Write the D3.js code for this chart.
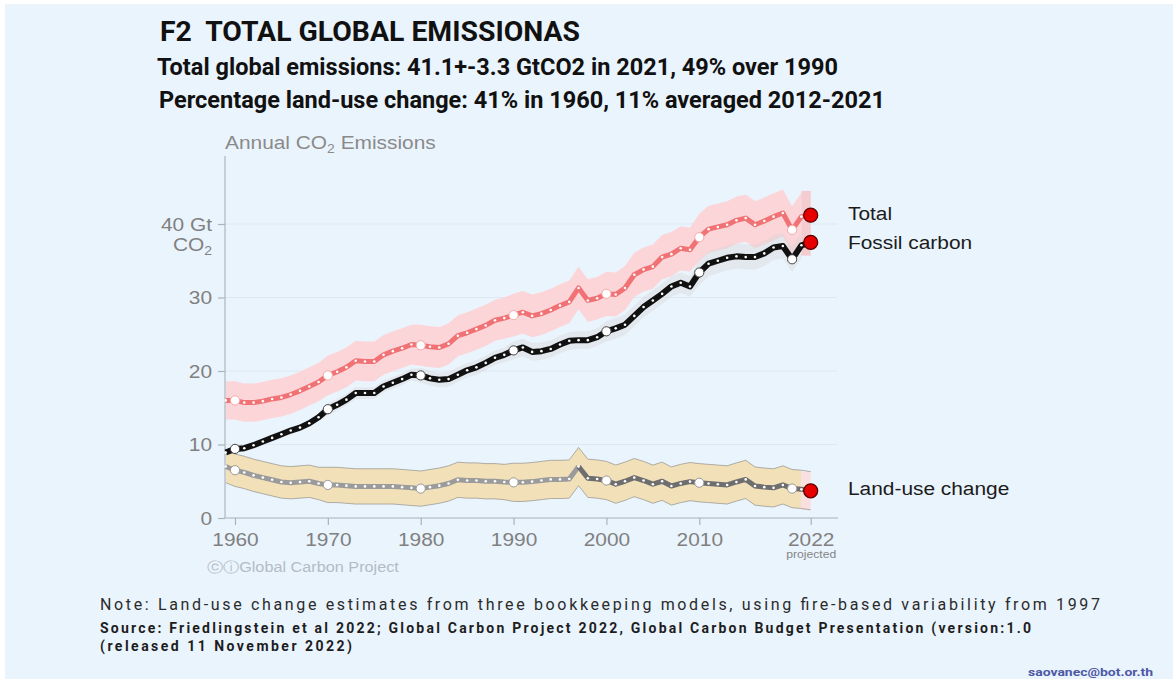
<!DOCTYPE html>
<html><head><meta charset="utf-8">
<script src="https://cdn.jsdelivr.net/npm/d3@7"></script>
<style>html,body{margin:0;padding:0;background:#fff;} svg{display:block;} text{white-space:pre;}</style>
</head><body>
<svg id="c" width="1173" height="679"></svg>
<script>
// ---------- data (GtCO2 per year, 1959..2022) ----------
const years = d3.range(1959, 2023);
const fossil = [8.9, 9.4, 9.5, 9.9, 10.4, 10.9, 11.4, 11.9, 12.3, 12.9, 13.7,
  14.8, 15.4, 16.1, 17.0, 17.0, 17.0, 17.9, 18.4, 18.9, 19.5,
  19.4, 19.0, 18.8, 18.9, 19.5, 20.1, 20.5, 21.1, 21.8, 22.2,
  22.8, 23.2, 22.6, 22.7, 23.0, 23.6, 24.1, 24.2, 24.2, 24.6,
  25.4, 25.8, 26.3, 27.5, 28.7, 29.6, 30.5, 31.5, 32.0, 31.5,
  33.4, 34.6, 35.0, 35.4, 35.6, 35.5, 35.5, 36.0, 36.8, 37.0,
  35.2, 37.1, 37.5];
const total = [16.0, 16.0, 15.7, 15.7, 15.9, 16.2, 16.4, 16.8, 17.3, 17.9, 18.5,
  19.4, 19.9, 20.5, 21.4, 21.3, 21.3, 22.2, 22.7, 23.1, 23.6,
  23.5, 23.3, 23.2, 23.7, 24.8, 25.2, 25.7, 26.2, 26.9, 27.2,
  27.6, 28.0, 27.5, 27.8, 28.3, 28.9, 29.4, 31.3, 29.6, 29.9,
  30.5, 30.4, 31.3, 33.1, 33.8, 34.2, 35.5, 35.9, 36.7, 36.5,
  38.2, 39.3, 39.6, 39.9, 40.5, 40.8, 39.9, 40.4, 41.0, 41.5,
  39.2, 41.0, 41.2];
const landUse = [7.0, 6.5, 6.2, 5.8, 5.5, 5.2, 4.9, 4.8, 4.9, 5.0, 4.7,
  4.5, 4.5, 4.4, 4.3, 4.3, 4.3, 4.3, 4.3, 4.2, 4.1,
  4.0, 4.2, 4.4, 4.7, 5.2, 5.1, 5.1, 5.0, 5.0, 4.9,
  4.85, 4.85, 4.95, 5.1, 5.25, 5.25, 5.3, 7.0, 5.4, 5.3,
  5.1, 4.6, 5.0, 5.5, 5.1, 4.6, 5.0, 4.35, 4.7, 4.95,
  4.8, 4.7, 4.6, 4.5, 4.9, 5.25, 4.35, 4.2, 4.1, 4.5,
  4.0, 3.9, 3.7];
// half-width of the uncertainty bands
const totalUnc = [2.6, 2.6, 2.6, 2.6, 2.6, 2.6, 2.6, 2.6, 2.6, 2.6, 2.6,
  2.7, 2.7, 2.7, 2.7, 2.7, 2.7, 2.7, 2.7, 2.7, 2.7,
  2.8, 2.8, 2.8, 2.8, 2.8, 2.8, 2.8, 2.8, 2.8, 2.8,
  2.9, 2.9, 2.9, 2.9, 2.9, 2.9, 2.9, 2.9, 2.9, 2.9,
  3.0, 3.0, 3.0, 3.0, 3.0, 3.0, 3.0, 3.0, 3.0, 3.0,
  3.2, 3.2, 3.2, 3.2, 3.2, 3.2, 3.2, 3.2, 3.2, 3.2,
  3.2, 3.3, 3.3];
const fossilUnc = [0.5, 0.5, 0.5, 0.5, 0.5, 0.5, 0.5, 0.5, 0.5, 0.5, 0.5,
  0.8, 0.8, 0.8, 0.8, 0.8, 0.8, 0.8, 0.8, 0.8, 0.8,
  1.0, 1.0, 1.0, 1.0, 1.0, 1.0, 1.0, 1.0, 1.0, 1.0,
  1.2, 1.2, 1.2, 1.2, 1.2, 1.2, 1.2, 1.2, 1.2, 1.2,
  1.4, 1.4, 1.4, 1.4, 1.4, 1.4, 1.4, 1.4, 1.4, 1.4,
  1.7, 1.7, 1.7, 1.7, 1.7, 1.7, 1.7, 1.7, 1.7, 1.7,
  1.7, 1.8, 1.8];
const landUnc = [2.2, 2.2, 2.2, 2.2, 2.2, 2.2, 2.2, 2.2, 2.2, 2.2, 2.2,
  2.4, 2.4, 2.4, 2.4, 2.4, 2.4, 2.4, 2.4, 2.4, 2.4,
  2.4, 2.4, 2.4, 2.4, 2.4, 2.4, 2.4, 2.4, 2.4, 2.4,
  2.6, 2.6, 2.6, 2.6, 2.6, 2.6, 2.6, 2.6, 2.6, 2.6,
  2.6, 2.6, 2.6, 2.6, 2.6, 2.6, 2.6, 2.6, 2.6, 2.6,
  2.6, 2.6, 2.6, 2.6, 2.6, 2.6, 2.6, 2.6, 2.6, 2.6,
  2.6, 2.6, 2.6];
const yTicks = [0, 10, 20, 30, 40];
const xTicks = [1960, 1970, 1980, 1990, 2000, 2010, 2022];
const decadeMarks = [1960, 1970, 1980, 1990, 2000, 2010, 2020];
const seriesNames = ["Total", "Fossil carbon", "Land-use change"];
const fireYear = 1997, projYear = 2022, lastObsYear = 2021;

const titleText = "F2  TOTAL GLOBAL EMISSIONAS";
const sub1 = "Total global emissions: 41.1+-3.3 GtCO2 in 2021, 49% over 1990";
const sub2 = "Percentage land-use change: 41% in 1960, 11% averaged 2012-2021";
const noteText = "Note: Land-use change estimates from three bookkeeping models, using fire-based variability from 1997";
const src1 = "Source: Friedlingstein et al 2022; Global Carbon Project 2022, Global Carbon Budget Presentation (version:1.0";
const src2 = "(released 11 November 2022)";
const email = "saovanec@bot.or.th";

// ---------- drawing ----------
const svg = d3.select("#c");
const SX = 1.16; // horizontal stretch of chart lettering
const chartFont = "'Liberation Sans', Arial, Helvetica, sans-serif";

svg.append("rect").attr("x", 5).attr("y", 4).attr("width", 1168).attr("height", 675).attr("fill", "#eaf4fd");

const x = d3.scaleLinear().domain([1960, 2022]).range([235, 810.7]);
const y = d3.scaleLinear().domain([0, 40]).range([518, 224]);

const rows = years.map((yr, i) => ({yr, f: fossil[i], t: total[i], l: landUse[i],
  tu: totalUnc[i], fu: fossilUnc[i], lu: landUnc[i]}));
const obs = rows.filter(d => d.yr <= lastObsYear);
const proj = rows.find(d => d.yr === projYear);

// gridlines
svg.append("g").selectAll("line").data(yTicks.filter(v => v > 0)).join("line")
  .attr("x1", 225).attr("x2", 837).attr("y1", d => y(d)).attr("y2", d => y(d))
  .attr("stroke", "#dde8f2").attr("stroke-width", 1);

// bands
svg.append("path").datum(obs)
  .attr("d", d3.area().x(d => x(d.yr)).y0(d => y(d.t - d.tu)).y1(d => y(d.t + d.tu)))
  .attr("fill", "#fdd3d6").attr("opacity", 0.95);
svg.append("path").datum(obs)
  .attr("d", d3.area().x(d => x(d.yr)).y0(d => y(d.f - d.fu)).y1(d => y(d.f + d.fu)))
  .attr("fill", "#d4d4d4").attr("opacity", 0.38);
svg.append("path").datum(obs)
  .attr("d", d3.area().x(d => x(d.yr)).y0(d => y(d.l - d.lu)).y1(d => y(d.l + d.lu)))
  .attr("fill", "#f2e0b8");
// projection boxes
svg.append("rect").attr("x", x(lastObsYear)).attr("width", x(projYear) - x(lastObsYear))
  .attr("y", y(proj.t + proj.tu)).attr("height", y(proj.f - proj.fu) - y(proj.t + proj.tu))
  .attr("fill", "#f6c3c6").attr("opacity", 0.85);
svg.append("rect").attr("x", x(lastObsYear)).attr("width", x(projYear) - x(lastObsYear))
  .attr("y", y(proj.l + proj.lu)).attr("height", y(proj.l - proj.lu) - y(proj.l + proj.lu))
  .attr("fill", "#f9dfe0");
// land band outlines
["lo", "hi"].forEach(k => {
  svg.append("path").datum(rows)
    .attr("d", d3.line().x(d => x(d.yr)).y(d => y(k === "lo" ? d.l - d.lu : d.l + d.lu)))
    .attr("fill", "none").attr("stroke", "#9c9a94").attr("stroke-width", 0.8);
});

// axes
svg.append("line").attr("x1", 225).attr("x2", 225).attr("y1", 156).attr("y2", 518)
  .attr("stroke", "#bcc6d0").attr("stroke-width", 1.6);
svg.append("line").attr("x1", 225).attr("x2", 838).attr("y1", 518).attr("y2", 518)
  .attr("stroke", "#bcc6d0").attr("stroke-width", 1.6);

const gy = svg.append("g").attr("transform", "translate(225,0)")
  .call(d3.axisLeft(y).tickValues(yTicks).tickSize(7).tickPadding(6)
    .tickFormat(d => d === 40 ? "40 Gt" : d));
gy.select(".domain").remove();
gy.selectAll(".tick line").attr("stroke", "#a9b3bd").attr("stroke-width", 1.2);
gy.selectAll(".tick text").attr("x", null).attr("dy", null)
  .attr("transform", "translate(-13,6.4) scale(" + SX + ",1)")
  .attr("font-family", chartFont).attr("font-size", 18).attr("fill", "#808080");
const co2 = gy.selectAll(".tick").filter(d => d === 40).append("text")
  .attr("transform", "translate(-13,26.5) scale(" + SX + ",1)")
  .attr("text-anchor", "end").attr("font-family", chartFont).attr("font-size", 18).attr("fill", "#808080");
co2.append("tspan").text("CO");
co2.append("tspan").attr("font-size", 12).attr("dy", 4).text("2");

const gx = svg.append("g").attr("transform", "translate(0,518)")
  .call(d3.axisBottom(x).tickValues(xTicks).tickSize(7).tickPadding(8).tickFormat(d3.format("d")));
gx.select(".domain").remove();
gx.selectAll(".tick line").attr("stroke", "#a9b3bd").attr("stroke-width", 1.2);
gx.selectAll(".tick text").attr("y", null).attr("dy", null)
  .attr("transform", "translate(0,28) scale(" + SX + ",1)")
  .attr("font-family", chartFont).attr("font-size", 18).attr("fill", "#808080");
gx.selectAll(".tick").filter(d => d === projYear).append("text")
  .attr("transform", "translate(0,39.5) scale(" + SX + ",1)")
  .attr("text-anchor", "middle").attr("font-family", chartFont).attr("font-size", 10.5)
  .attr("fill", "#858585").text("projected");

// lines
const lineOf = acc => d3.line().x(d => x(d.yr)).y(d => y(acc(d)));
svg.append("path").datum(rows).attr("d", lineOf(d => d.t))
  .attr("fill", "none").attr("stroke", "#f07274").attr("stroke-width", 5).attr("stroke-linejoin", "round");
svg.append("path").datum(rows).attr("d", lineOf(d => d.f))
  .attr("fill", "none").attr("stroke", "#111").attr("stroke-width", 6).attr("stroke-linejoin", "round");
svg.append("path").datum(rows.filter(d => d.yr <= fireYear)).attr("d", lineOf(d => d.l))
  .attr("fill", "none").attr("stroke", "#9b9b9b").attr("stroke-width", 5).attr("stroke-linejoin", "round");
svg.append("path").datum(rows.filter(d => d.yr >= fireYear)).attr("d", lineOf(d => d.l))
  .attr("fill", "none").attr("stroke", "#6e6e6e").attr("stroke-width", 5).attr("stroke-linejoin", "round");

// yearly white specks
["t", "f", "l"].forEach(k => {
  svg.append("g").selectAll("circle").data(rows.filter(d => d.yr < projYear && decadeMarks.indexOf(d.yr) < 0)).join("circle")
    .attr("cx", d => x(d.yr)).attr("cy", d => y(d[k])).attr("r", 1.3).attr("fill", "#fff");
});
// decade markers
[["t", "#f3a9ab"], ["f", "#444"], ["l", "#999"]].forEach(([k, c]) => {
  svg.append("g").selectAll("circle").data(rows.filter(d => decadeMarks.indexOf(d.yr) >= 0)).join("circle")
    .attr("cx", d => x(d.yr)).attr("cy", d => y(d[k])).attr("r", 4.6)
    .attr("fill", "#fff").attr("stroke", c).attr("stroke-width", 1);
});
// projection dots
["t", "f", "l"].forEach(k => {
  svg.append("circle").attr("cx", x(proj.yr)).attr("cy", y(proj[k])).attr("r", 7)
    .attr("fill", "#e60000").attr("stroke", "#5a0000").attr("stroke-width", 1.3);
});

// series labels
const labelVals = [proj.t, proj.f, proj.l];
const labelShift = [-1.5, 0, -2.5];
seriesNames.forEach((n, i) => {
  svg.append("text").attr("transform", "translate(848," + (y(labelVals[i]) + 6.4 + labelShift[i]) + ") scale(" + SX + ",1)")
    .attr("font-family", chartFont).attr("font-size", 18).attr("fill", "#1b1b1b").text(n);
});

// axis title
const at = svg.append("text").attr("transform", "translate(225,148.5) scale(" + SX + ",1)")
  .attr("font-family", chartFont).attr("font-size", 18).attr("fill", "#8a8a8a");
at.append("tspan").text("Annual CO");
at.append("tspan").attr("font-size", 12).attr("dy", 4).text("2");
at.append("tspan").attr("dy", -4).text(" Emissions");

// credit
svg.append("text").attr("transform", "translate(207,572) scale(" + SX + ",1)")
  .attr("font-family", chartFont).attr("font-size", 14).attr("fill", "#b3bcc6")
  .text("ⓒⓘGlobal Carbon Project");

// titles & notes
function txt(str, xx, yy, size, weight, color, len, adj) {
  return svg.append("text").attr("x", xx).attr("y", yy)
    .attr("font-family", "Roboto, 'Noto Sans', sans-serif").attr("font-size", size)
    .attr("font-weight", weight).attr("fill", color)
    .attr("textLength", len).attr("lengthAdjust", adj).text(str);
}
txt(titleText, 160, 41, 27, 700, "#111", 420, "spacingAndGlyphs");
txt(sub1, 157, 74.5, 23, 700, "#111", 681, "spacingAndGlyphs");
txt(sub2, 159, 107.5, 23, 700, "#111", 726, "spacingAndGlyphs");
txt(noteText, 100, 609.5, 16, 400, "#2b2b2b", 1000, "spacing");
txt(src1, 100, 633, 14, 700, "#1d1d1d", 931, "spacing");
txt(src2, 100, 651, 14, 700, "#1d1d1d", 252, "spacing");
txt(email, 1028, 676, 11.5, 700, "#4d58a5", 125, "spacingAndGlyphs");
</script>
</body></html>
